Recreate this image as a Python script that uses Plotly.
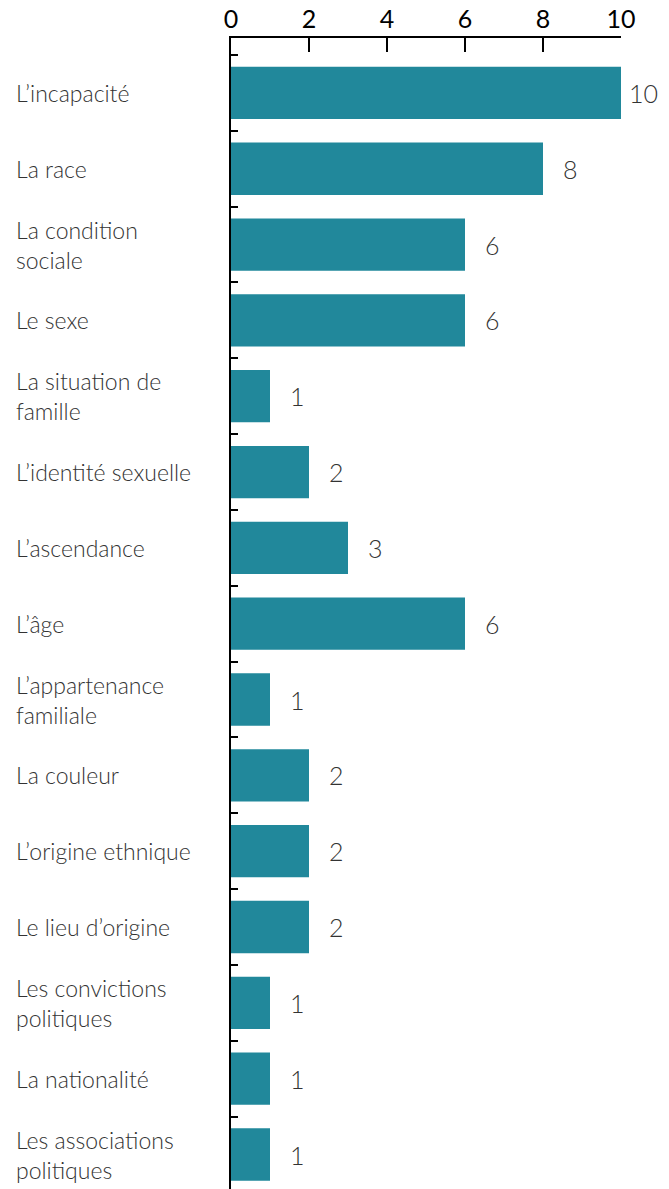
import plotly.graph_objects as go

categories = [
    "L’incapacité", "La race", "La condition<br>sociale", "Le sexe",
    "La situation de<br>famille", "L’identité sexuelle", "L’ascendance", "L’âge",
    "L’appartenance<br>familiale", "La couleur", "L’origine ethnique",
    "Le lieu d’origine", "Les convictions<br>politiques", "La nationalité",
    "Les associations<br>politiques",
]
values = [10, 8, 6, 6, 1, 2, 3, 6, 1, 2, 2, 2, 1, 1, 1]
x_ticks = [0, 2, 4, 6, 8, 10]

W, H = 669, 1189
L, T, B = 231, 38, 0
plot_w = 390
R = W - L - plot_w

BAR = "#21889b"
TXT = "#333333"
FONT = "Lato"

fig = go.Figure()
fig.add_trace(go.Bar(
    y=list(range(len(categories))), x=values, orientation="h",
    marker=dict(color=BAR, line=dict(width=0)),
    hoverinfo="skip",
))

ann = []
for i, (c, v) in enumerate(zip(categories, values)):
    ann.append(dict(
        x=(14 - L) / plot_w, xref="paper", y=i, yref="y",
        text=c, showarrow=False, xanchor="left", yanchor="middle", align="left",
        font=dict(family=FONT, size=23, color=TXT, weight=300),
    ))
    ann.append(dict(
        x=v, xref="x", y=i, yref="y", text=str(v), showarrow=False,
        xanchor="center", yanchor="middle", xshift=27 if v < 10 else 22,
        font=dict(family=FONT, size=25, color=TXT, weight=300),
    ))

fig.update_layout(
    width=W, height=H,
    margin=dict(l=L, r=R, t=T, b=B, pad=0, autoexpand=False),
    paper_bgcolor="white", plot_bgcolor="white",
    bargap=0.31, showlegend=False,
    annotations=ann,
    xaxis=dict(
        side="top", range=[0, 10], tickvals=x_ticks, ticktext=[str(t) for t in x_ticks],
        showgrid=False, zeroline=False, showline=True, linecolor="black", linewidth=2,
        ticks="inside", ticklen=14, tickwidth=2, tickcolor="black",
        tickfont=dict(family=FONT, size=25, color="black"),
        ticklabelstandoff=-2,
        automargin=False, fixedrange=True,
    ),
    yaxis=dict(
        type="linear", range=[14.455, -0.724],
        tickvals=[i - 0.5 for i in range(len(categories) + 1)],
        showticklabels=False, showgrid=False, zeroline=False,
        showline=True, linecolor="black", linewidth=2,
        ticks="inside", ticklen=7, tickwidth=2, tickcolor="black",
        automargin=False, fixedrange=True,
    ),
)

fig.write_html("out.html", config={"displayModeBar": False, "staticPlot": True},
               post_script="document.body.style.margin='0';")
